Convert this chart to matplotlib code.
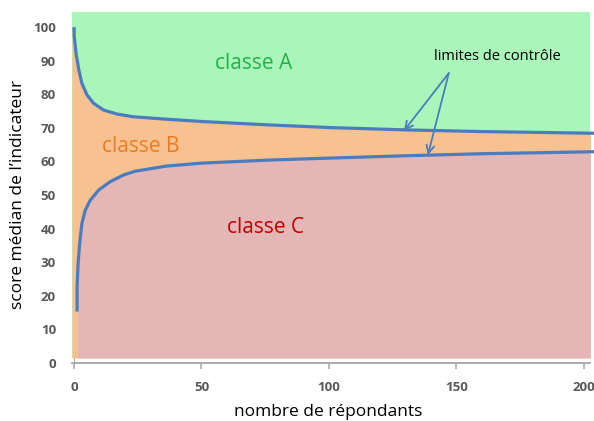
import matplotlib
matplotlib.use("Agg")
import matplotlib.pyplot as plt

# Upper control limit (boundary between classe A and classe B)
upper_n = [0, 0.1, 0.8, 1.9, 3.1, 5.1, 7.7, 11.6, 16.9, 23.4, 34, 50, 76, 100, 130, 160, 204]
upper_v = [100, 97.1, 92.1, 87.2, 83.2, 79.8, 77.3, 75.3, 74.1, 73.3, 72.7, 71.9, 70.9, 70.1,
           69.4, 68.9, 68.4]

# Lower control limit (boundary between classe B and classe C)
lower_n = [1.2, 1.2, 1.6, 2.2, 3.1, 4.4, 6.4, 9.7, 14.2, 19.5, 24, 36, 50, 76, 100, 130, 160, 204]
lower_v = [15.3, 22.7, 29.6, 35.6, 41.6, 45.5, 48.5, 51.5, 54, 56, 57.1, 58.6, 59.5, 60.4, 61,
           61.7, 62.3, 62.9]

x_ticks = [0, 50, 100, 150, 200]
y_ticks = [0, 10, 20, 30, 40, 50, 60, 70, 80, 90, 100]

GREEN = "#aaf5b9"
ORANGE = "#f8c190"
PINK = "#e4b6b6"
LINE = "#4a7cc0"
FONT = "Open Sans"

fig = plt.figure(figsize=(5.94, 4.21), dpi=100)
ax = fig.add_axes([0.1212, 0.1378, 0.8721, 0.8337])
x_min, x_max = -0.8, 202.4
y_top = 104.5
base = 1.5
ax.set_xlim(x_min, x_max)
ax.set_ylim(0, y_top)

# Class regions (orange band reaches the left edge of the plot area)
ax.fill_between([x_min, x_max], base, y_top, color=GREEN, lw=0, zorder=1)
ax.fill_between([x_min] + upper_n, base, [upper_v[0]] + upper_v, color=ORANGE, lw=0, zorder=2)
ax.fill_between(lower_n, base, lower_v, color=PINK, lw=0, zorder=3)

# Control limit curves
ax.plot(upper_n, upper_v, color=LINE, lw=2.3, zorder=5, clip_on=False,
        solid_capstyle="butt", solid_joinstyle="round")
ax.plot(lower_n, lower_v, color=LINE, lw=2.3, zorder=5, clip_on=False,
        solid_capstyle="butt", solid_joinstyle="round")

# Class labels
ax.text(70.6, 89.3, "classe A", color="#22b14c", fontsize=15, family=FONT, ha="center", va="center", zorder=6)
ax.text(26.3, 64.6, "classe B", color="#ec7c22", fontsize=15, family=FONT, ha="center", va="center", zorder=6)
ax.text(75.3, 40.2, "classe C", color="#c00000", fontsize=15, family=FONT, ha="center", va="center", zorder=6)

# Annotation pointing at both limits
ax.text(166, 91.3, "limites de contrôle", color="black", fontsize=10.5, family=FONT,
        ha="center", va="center", zorder=6)
for tip in [(129.4, 69.1), (138.8, 61.9)]:
    ax.annotate("", xy=tip, xytext=(147, 86.3),
                arrowprops=dict(arrowstyle="->", color=LINE, lw=1.3, mutation_scale=14,
                                shrinkA=0, shrinkB=0), zorder=7)

# Axes styling
for side in ["top", "right"]:
    ax.spines[side].set_visible(False)
ax.spines["left"].set_position(("data", 0))
ax.spines["left"].set_color("#a6a6a6")
ax.spines["left"].set_zorder(0.5)
ax.spines["bottom"].set_color("#a6a6a6")
ax.spines["bottom"].set_linewidth(1.3)
ax.set_xticks(x_ticks)
ax.set_yticks(y_ticks)
ax.tick_params(axis="x", direction="out", length=4, width=1.1, color="#a6a6a6", pad=9)
ax.tick_params(axis="y", length=0, pad=13)
for lab in ax.get_xticklabels() + ax.get_yticklabels():
    lab.set_fontfamily(FONT)
    lab.set_fontweight("bold")
    lab.set_fontsize(9.5)
    lab.set_color("#595959")

fig.text(18 / 594, 0.537, "score médian de l’indicateur", rotation=90, fontsize=12.5,
         family=FONT, ha="center", va="center")
fig.text(328 / 594, 9 / 421, "nombre de répondants", fontsize=12.5, family=FONT,
         ha="center", va="center")

fig.savefig("out.png", dpi=100)
